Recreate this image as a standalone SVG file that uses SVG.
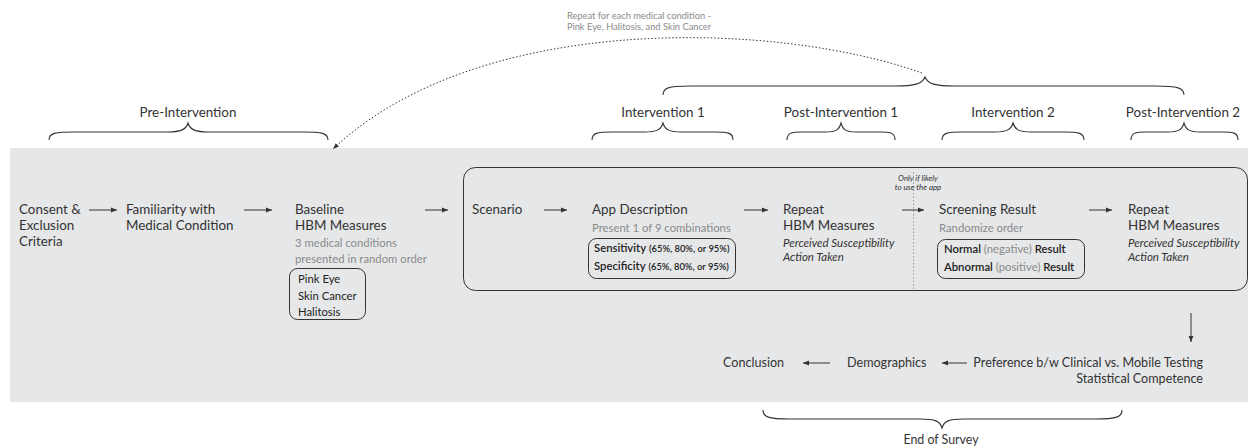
<svg xmlns="http://www.w3.org/2000/svg" width="1248" height="447" viewBox="0 0 1248 447">
  <defs>
    <style>
      text { font-family: Lato, "Open Sans", "Liberation Sans", sans-serif; fill: #333; }
      .main { font-size: 13.4px; }
      .low { font-size: 12.6px; }
      .sub { font-size: 11.3px; fill: #8a8a8a; }
      .item { font-size: 11.3px; fill: #222; }
      .strong { font-weight: 600; }
      .paren { font-size: 9.4px; font-weight: 600; }
      .muted { fill: #8a8a8a; font-weight: 400; }
      .ital { font-size: 11.5px; font-style: italic; fill: #333; }
      .note { font-size: 9.3px; fill: #8a8a8a; }
      .cond { font-size: 7.9px; font-style: italic; text-anchor: middle; }
      .phase { font-size: 13.4px; text-anchor: middle; }
      .endlabel { font-size: 12.4px; text-anchor: middle; }
      .brace { fill: none; stroke: #333; stroke-width: 1.1; }
      .arrow { fill: none; stroke: #333; stroke-width: 1; marker-end: url(#head); }
      .frame { fill: none; stroke: #333; stroke-width: 1; }
    </style>
    <marker id="head" markerUnits="userSpaceOnUse" markerWidth="7" markerHeight="6" refX="6" refY="3" orient="auto">
      <path d="M0,0.6 L6,3 L0,5.4 z" fill="#333"/>
    </marker>
    <marker id="dothead" markerUnits="userSpaceOnUse" markerWidth="7" markerHeight="6" refX="6" refY="3" orient="auto">
      <path d="M0,0.6 L6,3 L0,5.4 z" fill="#333"/>
    </marker>
  </defs>

  <!-- survey band -->
  <rect x="10" y="148" width="1238" height="254" fill="#e6e7e8"/>

  <!-- phase braces and labels -->
  <g id="phase-pre">
    <text class="phase" x="188" y="117">Pre-Intervention</text>
    <path class="brace" d="M49,140 C49,133 55,132 75,132 L168,132 C180,132 186,130 188,123 C190,130 196,132 208,132 L302,132 C322,132 328,133 328,140"/>
  </g>
  <g id="phase-int1">
    <text class="phase" x="663" y="117">Intervention 1</text>
    <path class="brace" d="M592,140 C592,133 597,132 612,132 L645,132 C656,132 661,130 663,123 C665,130 670,132 681,132 L714,132 C729,132 733,133 733,140"/>
  </g>
  <g id="phase-post1">
    <text class="phase" x="841" y="117">Post-Intervention 1</text>
    <path class="brace" d="M787,140 C787,133 791,132 802,132 L826,132 C836,132 839,130 841,123 C843,130 846,132 856,132 L880,132 C891,132 895,133 895,140"/>
  </g>
  <g id="phase-int2">
    <text class="phase" x="1013" y="117">Intervention 2</text>
    <path class="brace" d="M942,140 C942,133 947,132 962,132 L995,132 C1006,132 1011,130 1013,123 C1015,130 1020,132 1031,132 L1064,132 C1079,132 1084,133 1084,140"/>
  </g>
  <g id="phase-post2">
    <text class="phase" x="1183" y="117">Post-Intervention 2</text>
    <path class="brace" d="M1131,140 C1131,133 1135,132 1146,132 L1168,132 C1178,132 1182,130 1184,123 C1186,130 1190,132 1200,132 L1222,132 C1234,132 1238,133 1238,140"/>
  </g>
  <g id="phase-repeat">
    <path class="brace" d="M663,95 C663,88 668,86 690,86 L895,86 C915,86 922,84 925,77 C928,84 935,86 955,86 L1155,86 C1178,86 1184,88 1184,95"/>
    <text class="note" text-anchor="middle" x="639" y="19">Repeat for each medical condition -</text>
    <text class="note" text-anchor="middle" x="639" y="30">Pink Eye, Halitosis, and Skin Cancer</text>
  </g>
  <g id="phase-end">
    <path class="brace" d="M763,410 C763,417 768,419 790,419 L920,419 C935,419 940,421 942,428 C944,421 949,419 964,419 L1095,419 C1117,419 1122,417 1122,410"/>
    <text class="endlabel" x="941" y="444">End of Survey</text>
  </g>

  <!-- pre-intervention steps -->
  <g id="consent">
    <text class="main" x="19" y="214">Consent &amp;</text>
    <text class="main" x="19" y="230">Exclusion</text>
    <text class="main" x="19" y="246">Criteria</text>
  </g>
  <g id="familiarity">
    <text class="main" x="126" y="214">Familiarity with</text>
    <text class="main" x="126" y="230">Medical Condition</text>
  </g>
  <g id="baseline">
    <text class="main" x="295" y="214">Baseline</text>
    <text class="main" x="295" y="230">HBM Measures</text>
    <text class="sub" x="295" y="247">3 medical conditions</text>
    <text class="sub" x="295" y="263">presented in random order</text>
    <rect class="frame" x="289.5" y="268.5" width="76" height="51" rx="8"/>
    <text class="item" x="298" y="283">Pink Eye</text>
    <text class="item" x="298" y="299.5">Skin Cancer</text>
    <text class="item" x="298" y="316">Halitosis</text>
  </g>

  <!-- repeated block -->
  <g id="repeat-block">
    <rect class="frame" x="463.5" y="167.5" width="784" height="123" rx="12"/>
    <line x1="913.5" y1="172" x2="913.5" y2="290" stroke="#999" stroke-width="1" stroke-dasharray="1.5,2"/>
    <text class="cond" x="918" y="181">Only if likely</text>
    <text class="cond" x="918" y="189.5">to use the app</text>
  </g>
  <g id="scenario">
    <text class="main" x="472" y="214">Scenario</text>
  </g>
  <g id="app-description">
    <text class="main" x="592" y="214">App Description</text>
    <text class="sub" x="592" y="232">Present 1 of 9 combinations</text>
    <rect class="frame" x="588.5" y="238.5" width="147" height="40" rx="8"/>
    <text class="item" x="594" y="252"><tspan class="strong">Sensitivity</tspan> <tspan class="paren">(65%, 80%, or 95%)</tspan></text>
    <text class="item" x="594" y="269.5"><tspan class="strong">Specificity</tspan> <tspan class="paren">(65%, 80%, or 95%)</tspan></text>
  </g>
  <g id="repeat-hbm-1">
    <text class="main" x="783" y="214">Repeat</text>
    <text class="main" x="783" y="230">HBM Measures</text>
    <text class="ital" x="783" y="247">Perceived Susceptibility</text>
    <text class="ital" x="783" y="261">Action Taken</text>
  </g>
  <g id="screening-result">
    <text class="main" x="939" y="214">Screening Result</text>
    <text class="sub" x="939" y="232">Randomize order</text>
    <rect class="frame" x="937.5" y="239.5" width="147" height="39" rx="8"/>
    <text class="item" x="944" y="253"><tspan class="strong">Normal</tspan> <tspan class="muted">(negative)</tspan> <tspan class="strong">Result</tspan></text>
    <text class="item" x="944" y="270.5"><tspan class="strong">Abnormal</tspan> <tspan class="muted">(positive)</tspan> <tspan class="strong">Result</tspan></text>
  </g>
  <g id="repeat-hbm-2">
    <text class="main" x="1128" y="214">Repeat</text>
    <text class="main" x="1128" y="230">HBM Measures</text>
    <text class="ital" x="1128" y="247">Perceived Susceptibility</text>
    <text class="ital" x="1128" y="261">Action Taken</text>
  </g>

  <!-- end of survey steps -->
  <g id="preference">
    <text class="low" text-anchor="end" x="1203" y="367">Preference b/w Clinical vs. Mobile Testing</text>
    <text class="low" text-anchor="end" x="1203" y="383">Statistical Competence</text>
  </g>
  <g id="demographics">
    <text class="low" x="847" y="367">Demographics</text>
  </g>
  <g id="conclusion">
    <text class="low" x="723" y="367">Conclusion</text>
  </g>

  <!-- connectors -->
  <g id="connectors">
    <line class="arrow" x1="89" y1="210" x2="117" y2="210"/>
    <line class="arrow" x1="244" y1="210" x2="272" y2="210"/>
    <line class="arrow" x1="425" y1="210" x2="448" y2="210"/>
    <line class="arrow" x1="544" y1="210" x2="567" y2="210"/>
    <line class="arrow" x1="744" y1="210" x2="768" y2="210"/>
    <line class="arrow" x1="902" y1="210" x2="924" y2="210"/>
    <line class="arrow" x1="1089" y1="210" x2="1112" y2="210"/>
    <line class="arrow" x1="1191" y1="313" x2="1191" y2="342"/>
    <line class="arrow" x1="967" y1="363" x2="942" y2="363"/>
    <line class="arrow" x1="830" y1="363" x2="803" y2="363"/>
    <path d="M922,73 C780,22 480,10 333,149" fill="none" stroke="#333" stroke-width="1" stroke-dasharray="1.5,2" marker-end="url(#dothead)"/>
  </g>
</svg>
